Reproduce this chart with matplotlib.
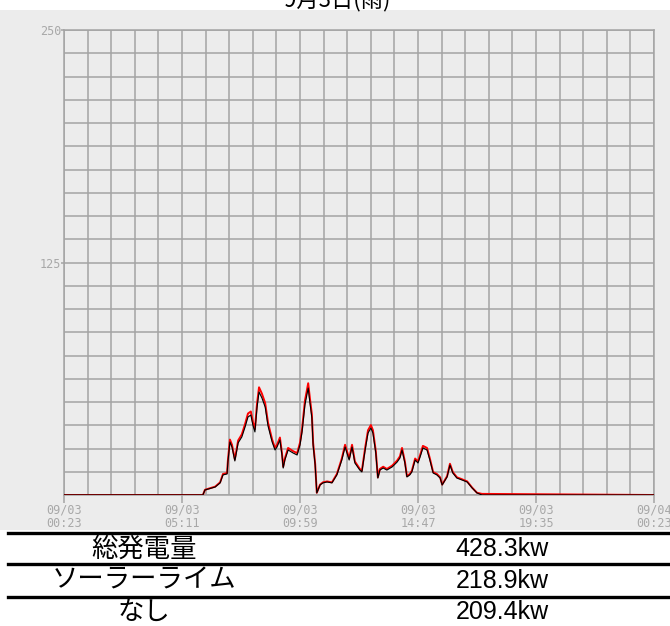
import matplotlib.pyplot as plt
from matplotlib.patches import Rectangle
from matplotlib.lines import Line2D

title = "9月3日(雨)"

# minutes after 09/03 00:23
minutes = [0, 339, 344, 369, 381, 388, 398, 400, 405, 410,
           417, 425, 434, 442, 449, 456, 461, 466, 471, 476,
           483, 491, 498, 508, 515, 520, 527, 532, 535, 539,
           547, 559, 569, 576, 581, 588, 596, 600, 605, 608,
           613, 617, 625, 632, 642, 654, 666, 674, 678, 686,
           696, 703, 710, 722, 727, 735, 742, 749, 754, 761,
           766, 771, 779, 788, 801, 813, 820, 825, 832, 837,
           844, 849, 857, 864, 869, 876, 886, 893, 901, 910,
           918, 923, 935, 942, 949, 959, 971, 984, 996, 1008,
           1020, 1440]

solar_kw = [0, 0, 2.8, 4.5, 6.8, 11.3, 11.8, 18.5, 29.8, 27.0,
            19.1, 29.3, 32.6, 38.2, 43.8, 44.9, 39.3, 35.4, 48.9, 57.9,
            54.5, 49.4, 38.8, 29.8, 25.3, 27.0, 30.9, 22.5, 15.2, 19.6,
            25.3, 23.6, 22.5, 28.1, 35.4, 50.6, 60.1, 52.3, 43.3, 28.1,
            16.8, 1.2, 5.6, 6.8, 7.3, 6.8, 11.3, 16.8, 19.6, 27.0,
            19.6, 27.0, 18.0, 14.0, 13.0, 25.3, 34.8, 37.6, 34.8, 23.6,
            9.5, 14.0, 15.2, 14.0, 15.8, 18.5, 20.8, 25.3, 18.0, 10.1,
            11.3, 13.0, 19.6, 18.0, 21.3, 26.4, 25.3, 19.6, 12.3, 11.3,
            9.5, 5.6, 10.1, 16.8, 12.3, 9.5, 8.5, 7.3, 4.0, 1.2,
            0.6, 0]

none_kw = [0, 0, 2.7, 4.3, 6.5, 10.8, 11.3, 17.7, 28.5, 25.8,
           18.3, 28.0, 31.2, 36.6, 41.9, 43.0, 37.6, 33.9, 46.8, 55.4,
           52.2, 47.3, 37.1, 28.5, 24.2, 25.8, 29.6, 21.5, 14.5, 18.8,
           24.2, 22.6, 21.5, 26.9, 33.9, 48.4, 57.5, 50.0, 41.4, 26.9,
           16.1, 1.1, 5.4, 6.5, 7.0, 6.5, 10.8, 16.1, 18.8, 25.8,
           18.8, 25.8, 17.2, 13.4, 12.4, 24.2, 33.3, 36.0, 33.3, 22.6,
           9.1, 13.4, 14.5, 13.4, 15.1, 17.7, 19.9, 24.2, 17.2, 9.7,
           10.8, 12.4, 18.8, 17.2, 20.4, 25.3, 24.2, 18.8, 11.8, 10.8,
           9.1, 5.4, 9.7, 16.1, 11.8, 9.1, 8.1, 7.0, 3.8, 1.1,
           0, 0]

tick_labels = ["09/03\n00:23", "09/03\n05:11", "09/03\n09:59",
               "09/03\n14:47", "09/03\n19:35", "09/04\n00:23"]

row_names = ["総発電量", "ソーラーライム", "なし"]
row_values = ["428.3kw", "218.9kw", "209.4kw"]

W, H = 670, 626
bg = "#ECECEC"
grid_c = "#A4A4A4"
label_c = "#A8A8A8"
jp = ["Noto Sans CJK JP", "DejaVu Sans"]

fig = plt.figure(figsize=(W / 100, H / 100), dpi=100, facecolor="white")

# gray panel behind the chart
fig.add_artist(Rectangle((0, 1 - 530 / H), 1, (530 - 10) / H,
                         transform=fig.transFigure, facecolor=bg,
                         edgecolor="none", zorder=-10))

fig.text(337 / W, 1 - 6 / H, title, ha="center", va="baseline",
         fontsize=16, family=jp)

ax = fig.add_axes([64 / W, 1 - 495 / H, 590 / W, 465 / H])
ax.set_facecolor(bg)
ax.set_xlim(0, 1440)
ax.set_ylim(0, 250)

ax.set_xticks([i * 288 for i in range(6)])
ax.set_xticks([i * 57.6 for i in range(26)], minor=True)
ax.set_xticklabels(tick_labels, family="DejaVu Sans Mono", fontsize=8.5,
                   color=label_c, linespacing=1.1)
ax.set_yticks([125, 250])
ax.set_yticks([i * 12.5 for i in range(21)], minor=True)
ax.set_yticklabels(["125", "250"], family="DejaVu Sans Mono", fontsize=8.5,
                   color=label_c)
ax.tick_params(axis="x", which="major", length=6, color=grid_c, width=1.1, pad=0)
ax.tick_params(axis="y", which="major", length=2, color=grid_c, width=1.1, pad=0)
ax.tick_params(which="minor", length=0)
ax.grid(which="both", color=grid_c, linewidth=1.1)
for s in ax.spines.values():
    s.set_color(grid_c)
    s.set_linewidth(1.1)
ax.set_axisbelow(True)

ax.plot(minutes, solar_kw, color="red", linewidth=1.4, zorder=3)
ax.plot(minutes, none_kw, color="black", linewidth=0.8, zorder=4)

# table below the chart
for y in [533, 564, 597]:
    fig.add_artist(Line2D([8 / W, 1], [1 - y / H, 1 - y / H],
                          transform=fig.transFigure, color="black",
                          linewidth=2.4))
for i, (name, val) in enumerate(zip(row_names, row_values)):
    yc = 1 - (549 + i * 31.5) / H
    fig.text(144 / W, yc, name, ha="center", va="center", fontsize=19,
             family=jp)
    fig.text(502 / W, yc, val, ha="center", va="center", fontsize=18,
             family=["Liberation Sans Narrow", "Liberation Sans", "DejaVu Sans"])

fig.savefig("out.png", dpi=100, facecolor="white")
